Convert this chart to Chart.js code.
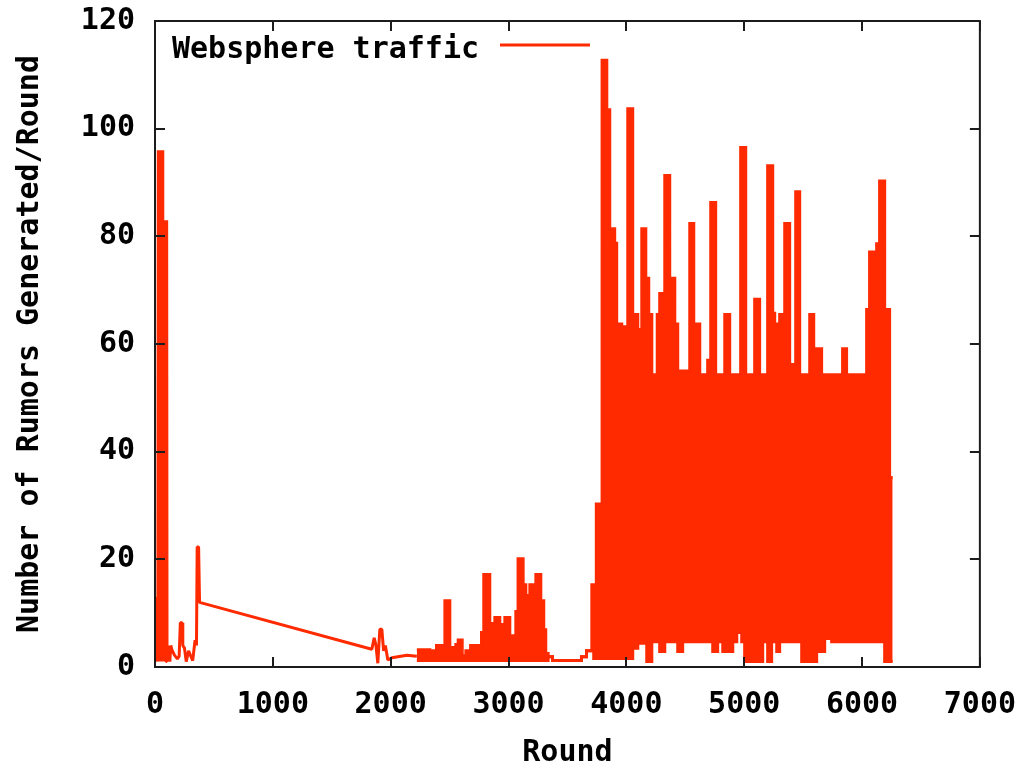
<!DOCTYPE html>
<html lang="en">
<head>
<meta charset="UTF-8" />
<title>Websphere traffic</title>
<script src="https://cdn.jsdelivr.net/npm/chart.js"></script>
<style>
  html, body { margin: 0; padding: 0; background: #fff; }
</style>
</head>
<body>
<canvas id="chart" width="1016" height="767"></canvas>
<script>
  // sparse start of the trace (round -> rumors generated)
  const lineRounds = [0, 8, 16, 24, 28, 36, 44, 52, 60, 66, 70, 78, 86, 94, 99, 102, 110, 118, 126, 134, 144,
    165, 190, 205, 215, 230, 236, 250, 265, 285, 300, 320, 340, 352, 358, 370, 378,
    1840, 1860, 1875, 1891, 1908, 1925, 1940, 1955, 1976, 2010, 2137, 2222];
  const lineValues = [11, 1, 13, 1, 96, 1, 96, 1, 96, 1, 83, 1, 83, 1, 83, 4, 1, 4, 1, 4, 3.2,
    2.2, 1.5, 2, 8.2, 8.2, 4, 3.5, 1, 3, 2.2, 1.2, 5, 4, 22.3, 22.3, 12,
    3.3, 5.4, 4, 0.7, 7, 7, 3, 4, 1.3, 1.7, 2.2, 2];

  // dense part: upper edge of the band (value held until next round)
  const hiRounds = [2222, 2332, 2389, 2460, 2502, 2530, 2553, 2573, 2607, 2638, 2678, 2771, 2790, 2841, 2864,
    2884, 2926, 2949, 2969, 3011, 3062, 3081, 3124, 3147, 3181, 3232, 3274, 3299, 3316, 3336, 3373,
    3619, 3662, 3707, 3745, 3794, 3834, 3859, 3901, 3918, 3961, 3977, 4012, 4054, 4097, 4114, 4131,
    4165, 4190, 4216, 4262, 4283, 4326, 4368, 4411, 4436, 4538, 4572, 4623, 4690, 4716, 4758, 4835,
    4877, 4970, 5013, 5089, 5131, 5199, 5242, 5259, 5301, 5344, 5386, 5437, 5471, 5556, 5590, 5657,
    5835, 5869, 6039, 6064, 6124, 6149, 6192, 6234, 6260];
  const hiValues = [3.2, 3, 4, 12.3, 3.6, 3.2, 4.2, 5, 2.1, 3, 4, 6.4, 17.2, 6, 8.1,
    9.2, 3, 7.9, 9.2, 5.8, 10.3, 20.1, 15.3, 13.3, 15.3, 17.2, 12.3, 6.9, 2.5, 1.9, 1.2,
    1.9, 3, 15.3, 30.3, 112.7, 103.5, 81.4, 78.7, 63.7, 62.7, 63.2, 103.7, 65.5, 62.7, 54.3, 81.4,
    72.2, 65.5, 54.3, 65.5, 69.4, 91.3, 72.2, 63.7, 55, 82.4, 63.7, 54.3, 57, 86.3, 54.3, 65.5,
    54.3, 96.5, 54.3, 68.3, 54.3, 93.1, 65.7, 63.7, 65.5, 82.4, 56.2, 88.3, 54.3, 65.5, 59.1, 54.3,
    59.1, 54.3, 66.4, 77.1, 78.6, 90.3, 66.4, 35.2, 35.2];

  // dense part: lower edge of the band
  const loRounds = [2222, 3336, 3373, 3619, 3662, 3707, 3723, 4054, 4097, 4173, 4216, 4283, 4326, 4436,
    4478, 4733, 4775, 4818, 4903, 4937, 4979, 5004, 5157, 5199, 5233, 5276, 5301, 5488, 5615, 5683,
    5742, 6192, 6260];
  const loValues = [1.2, 1.9, 1.2, 1.9, 3, 3, 1.6, 3.5, 4.4, 1, 4.7, 2.9, 4.7, 2.9,
    4.7, 2.9, 4.7, 2.9, 4.7, 6.4, 4.7, 1, 4.7, 1, 4.7, 2.9, 4.7, 1, 2.9, 5.3,
    4.7, 1, 1];

  const xTicks = [0, 1000, 2000, 3000, 4000, 5000, 6000, 7000];
  const yTicks = [0, 20, 40, 60, 80, 100, 120];

  const red = '#ff2a00';
  const font = { family: "'DejaVu Sans Mono', monospace", size: 30, weight: 'bold' };
  const pts = (xs, ys) => xs.map((x, i) => ({ x: x, y: ys[i] }));

  // gnuplot style frame: border, inward ticks on all sides, key in the corner
  const frame = {
    id: 'frame',
    afterDatasetsDraw(chart) {
      const { ctx, chartArea: a, scales: { x, y } } = chart;
      ctx.save();
      ctx.strokeStyle = '#1c1c1c';
      ctx.lineWidth = 2;
      ctx.strokeRect(a.left, a.top, a.right - a.left, a.bottom - a.top);
      ctx.beginPath();
      xTicks.forEach(v => {
        const px = Math.round(x.getPixelForValue(v));
        ctx.moveTo(px, a.bottom); ctx.lineTo(px, a.bottom - 10);
        ctx.moveTo(px, a.top); ctx.lineTo(px, a.top + 10);
      });
      yTicks.forEach(v => {
        const py = Math.round(y.getPixelForValue(v));
        ctx.moveTo(a.left, py); ctx.lineTo(a.left + 10, py);
        ctx.moveTo(a.right, py); ctx.lineTo(a.right - 10, py);
      });
      ctx.stroke();

      ctx.font = 'bold 30px "DejaVu Sans Mono", monospace';
      ctx.fillStyle = '#000';
      ctx.textBaseline = 'alphabetic';
      ctx.fillText(chart.data.datasets[0].label, a.left + 17, 58);
      ctx.strokeStyle = red;
      ctx.lineWidth = 3;
      ctx.beginPath();
      ctx.moveTo(a.left + 345, 45);
      ctx.lineTo(a.left + 435, 45);
      ctx.stroke();
      ctx.restore();
    }
  };

  new Chart(document.getElementById('chart'), {
    type: 'line',
    data: {
      datasets: [
        { label: 'Websphere traffic', data: pts(lineRounds, lineValues), borderColor: red, borderWidth: 3,
          borderJoinStyle: 'bevel', pointRadius: 0, fill: false },
        { label: 'upper', data: pts(hiRounds, hiValues), stepped: true, borderColor: red, borderWidth: 3,
          pointRadius: 0, backgroundColor: red, fill: { target: 2 } },
        { label: 'lower', data: pts(loRounds, loValues), stepped: true, borderColor: red, borderWidth: 3,
          pointRadius: 0, fill: false }
      ]
    },
    options: {
      responsive: false,
      animation: false,
      layout: { padding: { top: 21, right: 36, left: 0, bottom: 0 } },
      plugins: { legend: { display: false }, tooltip: { enabled: false } },
      scales: {
        x: {
          type: 'linear', min: 0, max: 7000,
          afterBuildTicks: s => { s.ticks = xTicks.map(v => ({ value: v })); },
          afterFit: s => { s.height = 100; },
          // tick marks are drawn by the frame plugin; tickLength only offsets the labels
          grid: { display: false, drawTicks: true, tickLength: 20 },
          border: { display: false },
          ticks: { padding: 0, color: '#000', font: font, maxRotation: 0, autoSkip: false,
            callback: v => String(v) },
          title: { display: true, text: 'Round', color: '#000', font: font, padding: { top: 0, bottom: -4 } }
        },
        y: {
          type: 'linear', min: 0, max: 120,
          afterBuildTicks: s => { s.ticks = yTicks.map(v => ({ value: v })); },
          afterFit: s => { s.width = 155; },
          grid: { display: false, drawTicks: true, tickLength: 20 },
          border: { display: false },
          ticks: { padding: 0, color: '#000', font: font, callback: v => String(v) },
          title: { display: true, text: 'Number of Rumors Generated/Round', color: '#000', font: font,
            padding: { top: 12, bottom: 0 } }
        }
      }
    },
    plugins: [frame]
  });
</script>
</body>
</html>
